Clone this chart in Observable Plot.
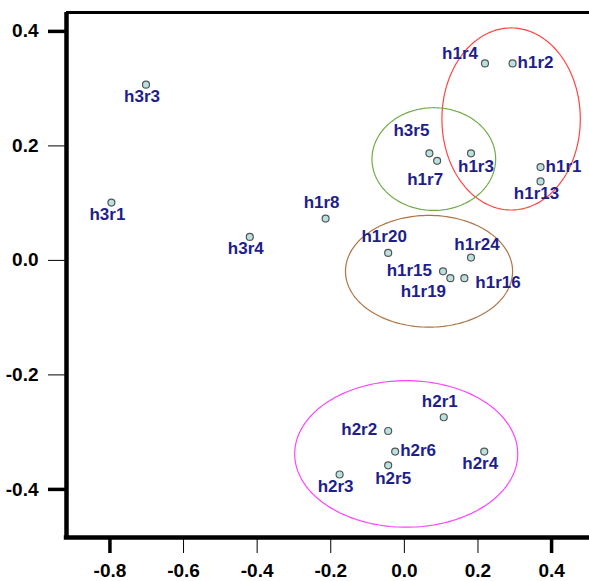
<!DOCTYPE html>
<html>
<head>
<meta charset="utf-8">
<script src="https://cdn.jsdelivr.net/npm/d3@7"></script>
<script src="https://cdn.jsdelivr.net/npm/@observablehq/plot@0.6"></script>
<style>
  html, body { margin: 0; padding: 0; background: #fff; }
  svg { display: block; }
</style>
</head>
<body>
<div id="chart"></div>
<script>
// ---- data ----
const names = ["h3r3","h3r1","h1r8","h3r4","h1r20","h1r4","h1r2","h3r5","h1r7","h1r3","h1r1","h1r13",
               "h1r24","h1r15","h1r19","h1r16","h2r1","h2r2","h2r6","h2r4","h2r5","h2r3"];
const xs = [-0.702,-0.796,-0.214,-0.420,-0.044,0.219,0.294,0.068,0.089,0.181,0.370,0.370,
            0.181,0.105,0.125,0.163,0.107,-0.044,-0.025,0.217,-0.044,-0.176];
const ys = [0.307,0.101,0.073,0.041,0.013,0.344,0.344,0.187,0.174,0.187,0.163,0.138,
            0.005,-0.019,-0.031,-0.031,-0.274,-0.298,-0.334,-0.334,-0.358,-0.374];
// label placement code relative to its point
const labelSide = ["S","S","N","S","N","NW","E","NW2","SW","S2","E","S",
                   "N2","W","SW2","SE","N","W","E","S","S2","S"];

// group ellipses (centre and radii in data units)
const ellipseNames = ["red","green","brown","magenta"];
const ellipseCx = [0.290, 0.080, 0.067, 0.005];
const ellipseCy = [0.247, 0.177, -0.019, -0.338];
const ellipseRx = [0.188, 0.168, 0.227, 0.303];
const ellipseRy = [0.159, 0.0897, 0.0976, 0.128];
const ellipseColors = ["#ff4444", "#72ac46", "#b07444", "#ff44ff"];

const xTicksMajor = [-0.8, 0.4];
const xTicksMinor = [-0.6, -0.4, -0.2, 0.0, 0.2];
const yTicksMajor = [0.4, -0.4];
const yTicksMinor = [0.2, 0.0, -0.2];
const xDomain = [-0.918, 0.503];
const yDomain = [-0.484, 0.433];

// ---- build ----
const sides = {
  S:   {anchor: "middle", dx: -4,  dy: 12},
  S2:  {anchor: "middle", dx: 5,   dy: 13},
  N:   {anchor: "middle", dx: -4,  dy: -16},
  N2:  {anchor: "middle", dx: 6,   dy: -13},
  E:   {anchor: "start",  dx: 5,   dy: -1},
  W:   {anchor: "end",    dx: -11, dy: -1},
  NW:  {anchor: "end",    dx: -7,  dy: -10},
  NW2: {anchor: "middle", dx: -18, dy: -23},
  SW:  {anchor: "middle", dx: -12, dy: 19},
  SW2: {anchor: "middle", dx: -27, dy: 13},
  SE:  {anchor: "start",  dx: 11,  dy: 4}
};
const pts = names.map((n, i) => ({name: n, x: xs[i], y: ys[i], side: labelSide[i]}));

const ellipseMarks = ellipseNames.map((e, k) => {
  const ring = [];
  for (let j = 0; j <= 180; j++) {
    const t = (j / 180) * 2 * Math.PI;
    ring.push({x: ellipseCx[k] + ellipseRx[k] * Math.cos(t), y: ellipseCy[k] + ellipseRy[k] * Math.sin(t)});
  }
  return Plot.line(ring, {x: "x", y: "y", stroke: ellipseColors[k], strokeWidth: 1.2});
});

const labelFont = {fontSize: 17, fontWeight: "bold", fill: "#1e1e8c", fontFamily: "Liberation Sans, Arial, sans-serif"};
const labelMarks = Object.keys(sides).map(s => Plot.text(pts.filter(p => p.side === s), {
  x: "x", y: "y", text: "name", textAnchor: sides[s].anchor, dx: sides[s].dx, dy: sides[s].dy,
  ...labelFont
}));

const tickFmt = d => d.toFixed(1);
const axisFont = {fontSize: 19, fontWeight: "bold", fill: "#000"};

const chart = Plot.plot({
  width: 589,
  height: 581,
  marginLeft: 66,
  marginRight: 0,
  marginTop: 12,
  marginBottom: 44,
  style: {fontFamily: "Liberation Sans, Arial, sans-serif", background: "#fff", overflow: "visible"},
  x: {domain: xDomain},
  y: {domain: yDomain},
  marks: [
    Plot.axisX(xTicksMinor, {tickSize: 16, tickPadding: 10, strokeWidth: 1, tickFormat: tickFmt, label: null, ...axisFont}),
    Plot.axisX(xTicksMajor, {tickSize: 16, tickPadding: 10, strokeWidth: 3.5, tickFormat: tickFmt, label: null, ...axisFont}),
    Plot.axisY(yTicksMinor, {tickSize: 18, tickPadding: 10, strokeWidth: 1, tickFormat: tickFmt, label: null, ...axisFont}),
    Plot.axisY(yTicksMajor, {tickSize: 18, tickPadding: 10, strokeWidth: 3.5, tickFormat: tickFmt, label: null, ...axisFont}),
    ...ellipseMarks,
    Plot.ruleY([yDomain[1]], {stroke: "#000", strokeWidth: 3}),
    Plot.ruleX([xDomain[0]], {stroke: "#000", strokeWidth: 4.5}),
    Plot.ruleY([yDomain[0]], {stroke: "#000", strokeWidth: 4.5, x1: xDomain[0] - 0.006, x2: xDomain[1]}),
    Plot.dot(pts, {x: "x", y: "y", r: 3.5, fill: "#b8e2e2", stroke: "#555", strokeWidth: 1.2}),
    ...labelMarks
  ]
});
document.getElementById("chart").appendChild(chart);
</script>
</body>
</html>
